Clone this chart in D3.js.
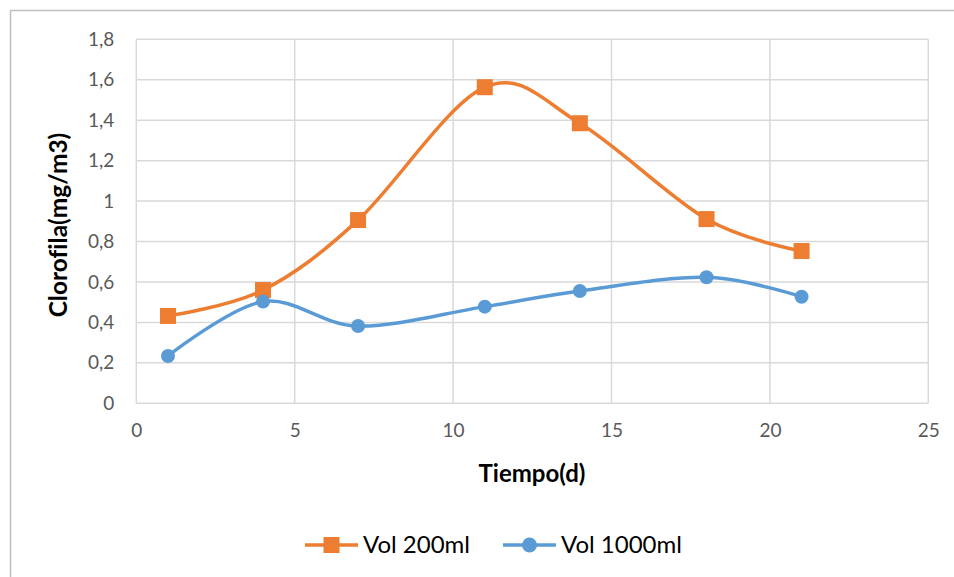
<!DOCTYPE html>
<html>
<head>
<meta charset="utf-8">
<script src="https://cdn.jsdelivr.net/npm/d3@7"></script>
<style>
  html, body { margin: 0; padding: 0; background: #fff; }
  svg { display: block; font-family: Lato, "Open Sans", sans-serif; font-variant-ligatures: none; }
</style>
</head>
<body>
<svg id="chart" width="954" height="577"></svg>
<script>
// Chlorophyll concentration over time for two culture volumes
const days = [1, 4, 7, 11, 14, 18, 21];
const vol200 = [0.432, 0.56, 0.906, 1.563, 1.385, 0.911, 0.753];
const vol1000 = [0.234, 0.503, 0.382, 0.478, 0.555, 0.623, 0.527];
const seriesNames = ["Vol 200ml", "Vol 1000ml"];
const xTicks = [0, 5, 10, 15, 20, 25];
const yTicks = [0, 0.2, 0.4, 0.6, 0.8, 1, 1.2, 1.4, 1.6, 1.8];

const orange = "#ED7D31", blue = "#5B9BD5";
const svg = d3.select("#chart");

// outer chart frame
svg.append("path")
  .attr("d", "M10.5,580 V10.5 H960")
  .attr("fill", "none").attr("stroke", "#BFBFBF").attr("stroke-width", 1.5);

const plot = { left: 136.3, right: 928.3, top: 39.3, bottom: 403.3 };
const x = d3.scaleLinear().domain([0, 25]).range([plot.left, plot.right]);
const y = d3.scaleLinear().domain([0, 1.8]).range([plot.bottom, plot.top]);
const fmt = v => d3.format("")(+v.toFixed(1)).replace(".", ",");

// gridlines
const grid = svg.append("g").attr("stroke", "#D9D9D9").attr("stroke-width", 1.5);
grid.selectAll("line.h").data(yTicks).join("line")
  .attr("x1", plot.left).attr("x2", plot.right)
  .attr("y1", d => y(d)).attr("y2", d => y(d));
grid.selectAll("line.v").data(xTicks).join("line")
  .attr("y1", plot.top).attr("y2", plot.bottom)
  .attr("x1", d => x(d)).attr("x2", d => x(d));

// axes (labels only, lines come from the grid)
const yAxis = svg.append("g").attr("transform", `translate(${plot.left - 22},0)`)
  .call(d3.axisLeft(y).tickValues(yTicks).tickFormat(fmt).tickSize(0).tickPadding(0));
const xAxis = svg.append("g").attr("transform", `translate(0,${plot.bottom + 20})`)
  .call(d3.axisBottom(x).tickValues(xTicks).tickFormat(d3.format("d")).tickSize(0).tickPadding(0));
[yAxis, xAxis].forEach(a => {
  a.select(".domain").remove();
  a.selectAll("text").attr("fill", "#595959").style("font-size", "19px")
    .style("font-family", "Lato, 'Open Sans', sans-serif");
});
xAxis.selectAll("text").attr("dy", "0.71em");

// axis titles
svg.append("text").attr("x", 532).attr("y", 481.5).attr("text-anchor", "middle")
  .style("font-size", "24px").style("font-weight", "bold").attr("fill", "#000")
  .text("Tiempo(d)");
svg.append("text").attr("transform", "translate(67,225) rotate(-90)")
  .attr("text-anchor", "middle")
  .style("font-size", "24.5px").style("font-weight", "bold").attr("fill", "#000")
  .text("Clorofila(mg/m3)");

// smoothed lines
const line = d3.line().x(d => x(d[0])).y(d => y(d[1])).curve(d3.curveCardinal.tension(0));
const s200 = days.map((d, i) => [d, vol200[i]]);
const s1000 = days.map((d, i) => [d, vol1000[i]]);

svg.append("path").datum(s200).attr("d", line)
  .attr("fill", "none").attr("stroke", orange).attr("stroke-width", 3.5).attr("stroke-linecap", "round");
svg.append("path").datum(s1000).attr("d", line)
  .attr("fill", "none").attr("stroke", blue).attr("stroke-width", 3.5).attr("stroke-linecap", "round");

// markers
const sq = 16;
svg.append("g").selectAll("rect").data(s200).join("rect")
  .attr("x", d => x(d[0]) - sq / 2).attr("y", d => y(d[1]) - sq / 2)
  .attr("width", sq).attr("height", sq).attr("fill", orange);
svg.append("g").selectAll("circle").data(s1000).join("circle")
  .attr("cx", d => x(d[0])).attr("cy", d => y(d[1])).attr("r", 7).attr("fill", blue);

// legend
const legend = svg.append("g").style("font-size", "24px");
const items = [
  { name: seriesNames[0], color: orange, shape: "square", x0: 305 },
  { name: seriesNames[1], color: blue, shape: "circle", x0: 503 }
];
items.forEach(it => {
  const g = legend.append("g").attr("transform", `translate(${it.x0},545)`);
  g.append("line").attr("x1", 0).attr("x2", 53).attr("stroke", it.color).attr("stroke-width", 3.5);
  if (it.shape === "square") {
    g.append("rect").attr("x", 26.5 - 8).attr("y", -8).attr("width", 16).attr("height", 16).attr("fill", it.color);
  } else {
    g.append("circle").attr("cx", 26.5).attr("r", 7.5).attr("fill", it.color);
  }
  g.append("text").attr("x", 58).attr("dy", "0.35em").attr("fill", "#000").text(it.name);
});
</script>
</body>
</html>
